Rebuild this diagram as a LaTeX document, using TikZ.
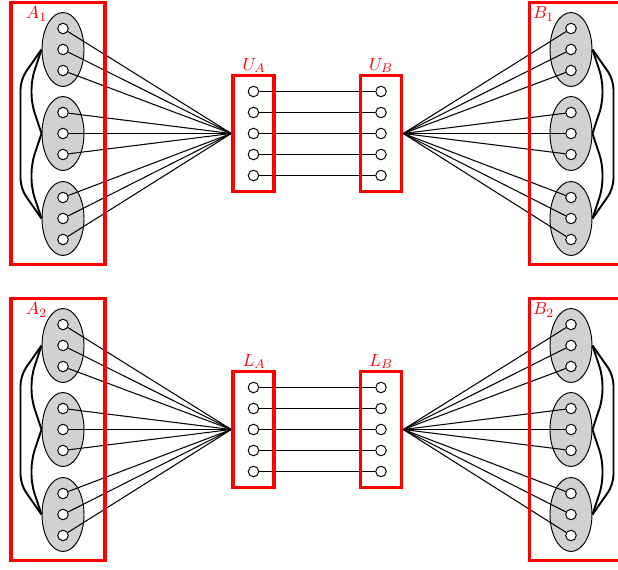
\documentclass[tikz,border=0pt]{standalone}
\usetikzlibrary{shapes.geometric}
\pgfdeclarelayer{bg}
\pgfdeclarelayer{fg}
\pgfsetlayers{bg,main,fg}
\begin{document}
\begin{tikzpicture}[x=0.625pt,y=-0.625pt,
  grp/.style={ellipse,draw,fill=black!18,minimum width=26.25pt,minimum height=46.25pt,inner sep=0pt,line width=0.6pt},
  dot/.style={circle,draw,fill=white,minimum size=6.6pt,inner sep=0pt,line width=0.6pt},
  redbox/.style={draw=red,line width=2.2pt,inner sep=0pt},
  outerbox/.style={redbox,minimum width=58.75pt,minimum height=164pt},
  midbox/.style={redbox,minimum width=25.6pt,minimum height=72.5pt},
  link/.style={line width=0.65pt},
  bond/.style={line width=1.2pt,rounded corners=6pt},
  lab/.style={text=red,inner sep=0pt,font=\fontsize{11}{13}\selectfont}]
\useasboundingbox (0,0) rectangle (618,570);
\foreach \h/\dy/\L in {1/0/U, 2/296/L} {
  % groups of three vertices
  \foreach \s/\x in {A/63, B/571} {
    \foreach \e/\ey in {1/49.5, 2/133.5, 3/218.5} {
      \begin{pgfonlayer}{bg}
        \node[grp] (\s\h e\e) at (\x,\ey+\dy) {};
      \end{pgfonlayer}
      \foreach \c/\cy in {1/-21, 2/0, 3/21} {
        \node[dot] (\s\h e\e c\c) at (\x,\ey+\dy+\cy) {};
      }
    }
  }
  % boxes
  \begin{pgfonlayer}{fg}
    \node[midbox] (m\h a) at (253.5,133.5+\dy) {};
    \node[midbox] (m\h b) at (381,133.5+\dy) {};
    \node[outerbox] (box\h a) at (58,133.5+\dy) {};
    \node[outerbox] (box\h b) at (576.5,133.5+\dy) {};
  \end{pgfonlayer}
  \node[lab] (lm\h a) at (254,65.5+\dy) {$\L_A$};
  \node[lab] (lm\h b) at (381,65.5+\dy) {$\L_B$};
  \node[lab] (lA\h) at (36.5,14+\dy) {$A_\h$};
  \node[lab] (lB\h) at (543.5,14+\dy) {$B_\h$};
  \foreach \k/\ky in {1/-42, 2/-21, 3/0, 4/21, 5/42} {
    \node[dot] (m\h a\k) at (253.5,133.5+\dy+\ky) {};
    \node[dot] (m\h b\k) at (381,133.5+\dy+\ky) {};
    \draw[link] (m\h a\k) -- (m\h b\k);
  }
  % fan lines
  \foreach \e in {1,2,3} {
    \foreach \c in {1,2,3} {
      \draw[link] (A\h e\e c\c) -- (m\h a.west);
      \draw[link] (B\h e\e c\c) -- (m\h b.east);
    }
  }
  % thick bonds between groups
  \draw[bond] (A\h e1.west) -- ++(-21,30) -- ++(0,109) -- (A\h e3.west);
  \draw[bond] (A\h e1.west) -- ++(-10,30) -- ++(0,24) -- (A\h e2.west);
  \draw[bond] (A\h e2.west) -- ++(-10,30) -- ++(0,25) -- (A\h e3.west);
  \draw[bond] (B\h e1.east) -- ++(21,30) -- ++(0,109) -- (B\h e3.east);
  \draw[bond] (B\h e1.east) -- ++(10,30) -- ++(0,24) -- (B\h e2.east);
  \draw[bond] (B\h e2.east) -- ++(10,30) -- ++(0,25) -- (B\h e3.east);
}
\end{tikzpicture}
\end{document}
